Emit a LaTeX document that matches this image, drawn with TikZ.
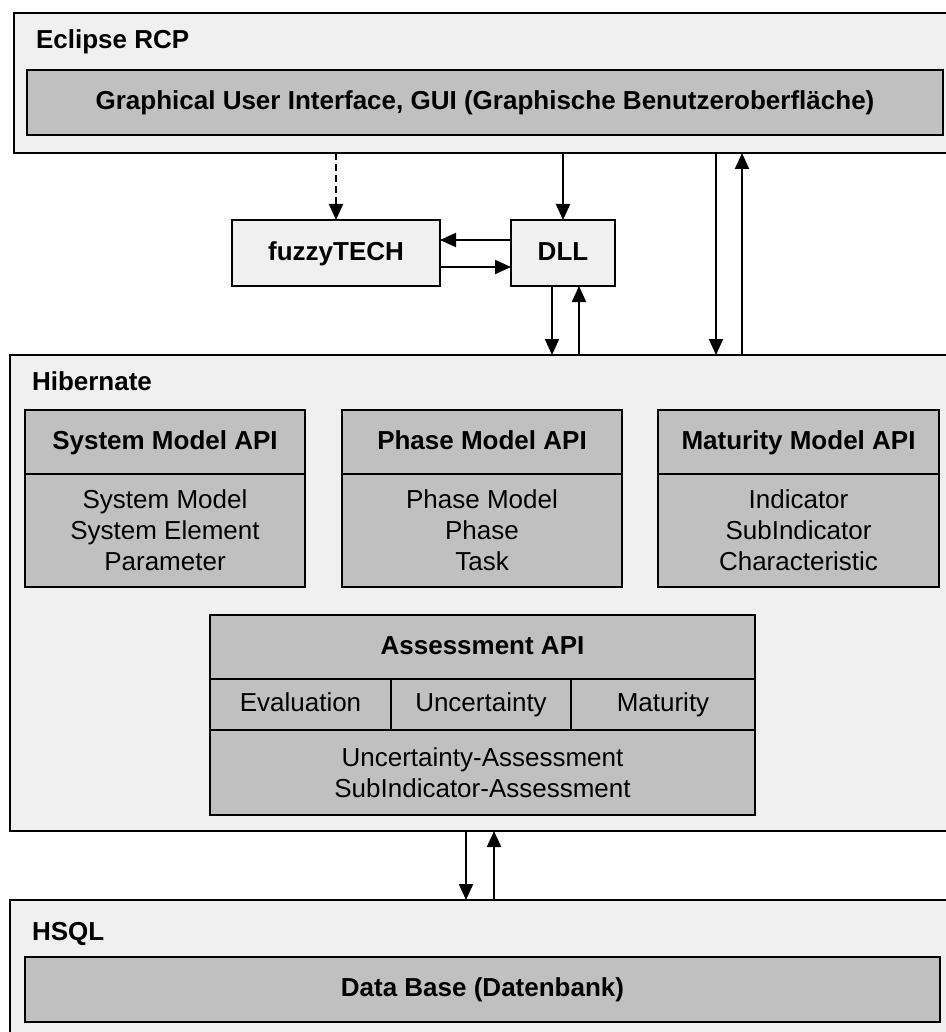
\documentclass[tikz,border=0pt]{standalone}
\usepackage{fontspec}
\setmainfont{Liberation Sans}
\usetikzlibrary{arrows.meta}
\definecolor{outerfill}{HTML}{F0F0F0}
\definecolor{innerfill}{HTML}{C0C0C0}
\begin{document}
\begin{tikzpicture}[x=1pt,y=-1pt,
  every node/.style={font=\fontsize{26}{31}\selectfont, inner sep=0pt, outer sep=0pt},
  oneline/.style={text height=19pt, text depth=5pt},
  outerbox/.style={draw=black, line width=2.5pt, fill=outerfill, anchor=north west},
  innerbox/.style={draw=black, line width=2pt, fill=innerfill, anchor=north west, align=center},
  cellbox/.style={innerbox, oneline},
  lightbox/.style={draw=black, line width=2pt, fill=outerfill, anchor=north west, oneline, font=\fontsize{26}{31}\selectfont\bfseries},
  layerlabel/.style={anchor=west, oneline, font=\fontsize{26}{31}\selectfont\bfseries},
  hdr/.style={innerbox, oneline, font=\fontsize{26}{31}\selectfont\bfseries},
  arr/.style={line width=2pt, -{Triangle[length=16pt,width=14pt]}},
]
\useasboundingbox (0,0) rectangle (945,1032);
\fill[white] (0,0) rectangle (945,1032);

% Eclipse RCP layer
\node[outerbox, minimum width=946pt, minimum height=140pt] (eclipse) at (14,13) {};
\node[layerlabel] (eclipselbl) at (36,42) {Eclipse RCP};
\node[hdr, minimum width=916pt, minimum height=65pt] (gui) at (27,70) {Graphical User Interface, GUI (Graphische Benutzeroberfläche)};

% middle boxes
\node[lightbox, minimum width=208pt, minimum height=66pt] (fuzzy) at (232,220) {fuzzyTECH};
\node[lightbox, minimum width=104pt, minimum height=66pt] (dll) at (511,220) {DLL};

% Hibernate layer
\node[outerbox, minimum width=950pt, minimum height=476pt] (hib) at (10,355) {};
\node[layerlabel] (hiblbl) at (32,383) {Hibernate};

\node[hdr, minimum width=280pt, minimum height=64pt] (sysh) at (25,410) {System Model API};
\node[innerbox, minimum width=280pt, minimum height=113pt] (sysb) at (25,474) {System Model\\System Element\\Parameter};
\node[hdr, minimum width=280pt, minimum height=64pt] (phah) at (342,410) {Phase Model API};
\node[innerbox, minimum width=280pt, minimum height=113pt] (phab) at (342,474) {Phase Model\\Phase\\Task};
\node[hdr, minimum width=281pt, minimum height=64pt] (math) at (658,410) {Maturity Model API};
\node[innerbox, minimum width=281pt, minimum height=113pt] (matb) at (658,474) {Indicator\\SubIndicator\\Characteristic};

\node[hdr, minimum width=545pt, minimum height=64pt] (assh) at (210,615) {Assessment API};
\node[cellbox, minimum width=181pt, minimum height=51pt] (eval) at (210,679) {Evaluation};
\node[cellbox, minimum width=180pt, minimum height=51pt] (unc) at (391,679) {Uncertainty};
\node[cellbox, minimum width=184pt, minimum height=51pt] (mat) at (571,679) {Maturity};
\node[innerbox, minimum width=545pt, minimum height=85pt] (assb) at (210,730) {Uncertainty-Assessment\\SubIndicator-Assessment};

% HSQL layer
\node[outerbox, minimum width=950pt, minimum height=150pt] (hsql) at (10,900) {};
\node[layerlabel] (hsqllbl) at (32,933) {HSQL};
\node[hdr, minimum width=915pt, minimum height=65pt] (db) at (25,957) {Data Base (Datenbank)};

% connectors
\coordinate (rdn) at (716,0);
\coordinate (rup) at (742,0);
\coordinate (bdn) at (466,0);
\coordinate (bup) at (494,0);

\draw[arr, dash pattern=on 7pt off 4pt] (fuzzy.north |- eclipse.south) -- (fuzzy.north);
\draw[arr] (dll.north |- eclipse.south) -- (dll.north);
\draw[arr] ([yshift=13pt]dll.west) -- ([yshift=13pt]fuzzy.east);
\draw[arr] ([yshift=-14pt]fuzzy.east) -- ([yshift=-14pt]dll.west);
\draw[arr] ([xshift=-11pt]dll.south) -- ([xshift=-11pt]dll.south |- hib.north);
\draw[arr] ([xshift=16pt]dll.south |- hib.north) -- ([xshift=16pt]dll.south);
\draw[arr] (rdn |- eclipse.south) -- (rdn |- hib.north);
\draw[arr] (rup |- hib.north) -- (rup |- eclipse.south);
\draw[arr] (bdn |- hib.south) -- (bdn |- hsql.north);
\draw[arr] (bup |- hsql.north) -- (bup |- hib.south);
\end{tikzpicture}
\end{document}
